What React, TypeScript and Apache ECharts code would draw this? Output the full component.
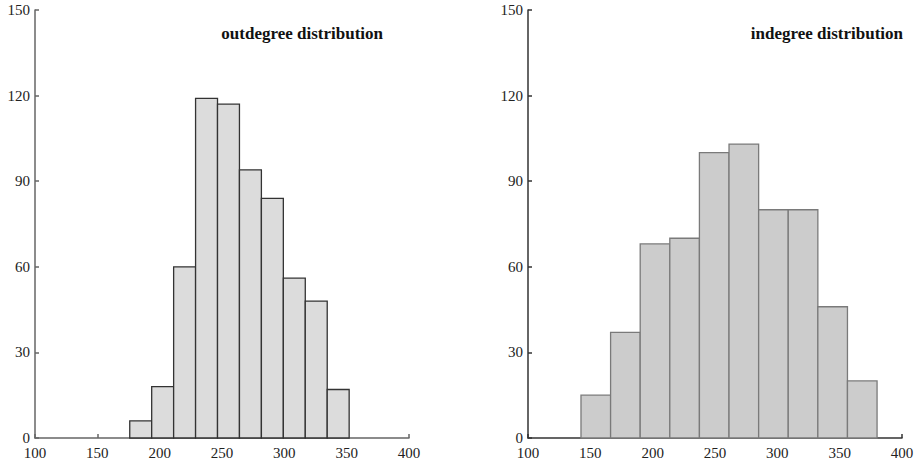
import React, { useEffect, useRef } from "react";
import * as echarts from "echarts";

const outEdges = [176, 193.6, 211.2, 228.8, 246.4, 264, 281.6, 299.2, 316.8, 334.4, 352];
const outCounts = [6, 18, 60, 119, 117, 94, 84, 56, 48, 17];
const inEdges = [142.5, 166.25, 190, 213.75, 237.5, 261.25, 285, 308.75, 332.5, 356.25, 380];
const inCounts = [15, 37, 68, 70, 100, 103, 80, 80, 46, 20];
const xTicks = [100, 150, 200, 250, 300, 350, 400];
const yTicks = [0, 30, 60, 90, 120, 150];
const titles = ["outdegree distribution", "indegree distribution"];

const FONT = "'Liberation Serif', 'Times New Roman', serif";

function bins(edges: number[], counts: number[]) {
  return counts.map((c, i) => [edges[i], edges[i + 1], c]);
}

export default function App() {
  const ref = useRef<HTMLDivElement>(null);
  useEffect(() => {
    document.body.style.margin = "0";
    const chart = echarts.init(ref.current!, null, { renderer: "svg" });
    const grids = [
      { left: 35, width: 374, top: 10, height: 428 },
      { left: 528, width: 374, top: 10, height: 428 },
    ];
    const axisColors = ["#666666", "#333333"];
    const fills = ["#dcdcdc", "#cccccc"];
    const strokes = ["#333333", "#7a7a7a"];
    const mkX = (i: number) => ({
      type: "value",
      gridIndex: i,
      min: xTicks[0],
      max: xTicks[xTicks.length - 1],
      interval: 50,
      axisLine: { show: true, lineStyle: { color: axisColors[i], width: 1.5 } },
      axisTick: { show: true, inside: true, length: 4, lineStyle: { color: axisColors[i], width: 1.5 } },
      axisLabel: { color: "#222", fontFamily: FONT, fontSize: 15, margin: 8, lineHeight: 13 },
      splitLine: { show: false },
    });
    const mkY = (i: number) => ({
      type: "value",
      gridIndex: i,
      min: yTicks[0],
      max: yTicks[yTicks.length - 1],
      interval: 30,
      axisLine: { show: true, lineStyle: { color: axisColors[i], width: 1.5 } },
      axisTick: { show: true, inside: true, length: 4, lineStyle: { color: axisColors[i], width: 1.5 } },
      axisLabel: { color: "#222", fontFamily: FONT, fontSize: 15, margin: 5, lineHeight: 11 },
      splitLine: { show: false },
    });
    const mkSeries = (i: number, data: number[][]) => ({
      type: "custom",
      xAxisIndex: i,
      yAxisIndex: i,
      encode: { x: [0, 1], y: 2 },
      data,
      renderItem: (params: any, api: any) => {
        const p0 = api.coord([api.value(0), api.value(2)]);
        const p1 = api.coord([api.value(1), 0]);
        return {
          type: "rect",
          shape: { x: p0[0], y: p0[1], width: p1[0] - p0[0], height: p1[1] - p0[1] },
          style: { fill: fills[i], stroke: strokes[i], lineWidth: 1.3 },
        };
      },
    });
    chart.setOption({
      animation: false,
      backgroundColor: "#ffffff",
      grid: grids,
      xAxis: [mkX(0), mkX(1)],
      yAxis: [mkY(0), mkY(1)],
      series: [mkSeries(0, bins(outEdges, outCounts)), mkSeries(1, bins(inEdges, inCounts))],
      graphic: [
        {
          type: "text",
          right: 917 - 383,
          top: 25,
          style: { text: titles[0], font: `bold 17px ${FONT}`, fill: "#111" },
        },
        {
          type: "text",
          right: 917 - 903,
          top: 25,
          style: { text: titles[1], font: `bold 17px ${FONT}`, fill: "#111" },
        },
      ],
    });
    return () => chart.dispose();
  }, []);
  return <div ref={ref} style={{ position: "absolute", left: 0, top: 0, width: 917, height: 466 }} />;
}
